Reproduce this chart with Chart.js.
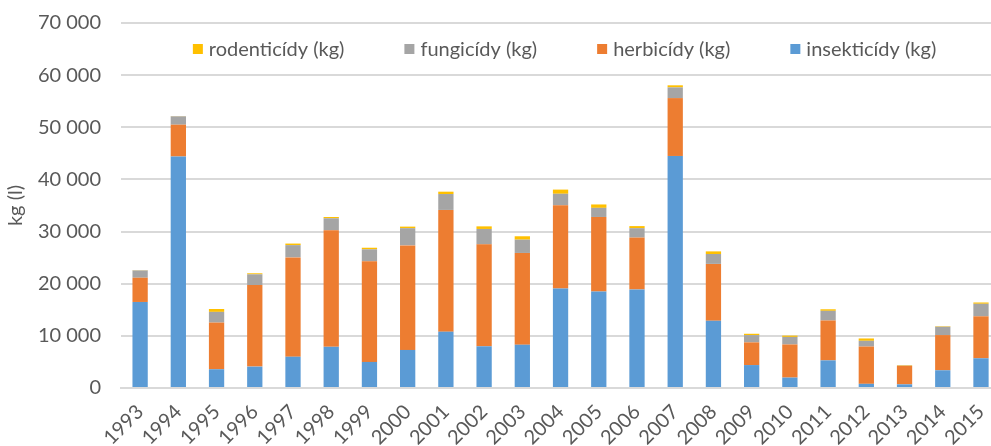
<!DOCTYPE html>
<html>
<head>
<meta charset="utf-8">
<script src="https://cdn.jsdelivr.net/npm/chart.js@4/dist/chart.umd.min.js"></script>
<style>
  html, body { margin: 0; padding: 0; background: #fff; overflow: hidden; }
  #wrap { position: relative; width: 1010px; height: 455px; margin-top: -9px; }
</style>
</head>
<body>
<div id="wrap"><canvas id="c"></canvas></div>
<script>
const years = ['1993','1994','1995','1996','1997','1998','1999','2000','2001','2002','2003','2004','2005','2006','2007','2008','2009','2010','2011','2012','2013','2014','2015'];
const insekticidy = [16500, 44400, 3600, 4100, 6000, 7900, 5000, 7300, 10800, 8000, 8300, 19100, 18500, 18900, 44500, 12900, 4400, 2000, 5300, 800, 700, 3400, 5700];
const herbicidy   = [4650, 6100, 8950, 15650, 19050, 22350, 19300, 20050, 23350, 19550, 17600, 15950, 14300, 9950, 11100, 10900, 4350, 6350, 7650, 7150, 3550, 6750, 8050];
const fungicidy   = [1400, 1600, 2050, 2050, 2350, 2300, 2300, 3300, 3050, 2950, 2550, 2200, 1750, 1800, 2050, 1900, 1400, 1450, 1850, 1100, 50, 1600, 2400];
const rodenticidy = [50, 50, 550, 200, 300, 250, 300, 300, 450, 500, 650, 800, 650, 400, 400, 500, 250, 250, 300, 450, 100, 100, 250];
const seriesLabels = ['insekticídy (kg)', 'herbicídy (kg)', 'fungicídy (kg)', 'rodenticídy (kg)'];
const seriesColors = ['#5B9BD5', '#ED7D31', '#A5A5A5', '#FFC000'];
const yTitle = 'kg (l)';

const FONT = 'Lato, Carlito, "Open Sans", sans-serif';
const TXT = '#595959';

const legendPlugin = {
  id: 'insideLegend',
  afterDraw(chart) {
    const ctx = chart.ctx;
    const ca = chart.chartArea;
    const items = chart.data.datasets.slice().reverse();
    ctx.save();
    ctx.font = '20px ' + FONT;
    const box = 10, gap = 6, itemGap = 60;
    const widths = items.map(d => box + gap + ctx.measureText(d.label).width);
    const total = widths.reduce((a, b) => a + b, 0) + itemGap * (items.length - 1);
    let x = (ca.left + ca.right) / 2 + 4 - total / 2;
    const y = ca.top + 26;
    ctx.textBaseline = 'middle';
    items.forEach((d, i) => {
      ctx.fillStyle = d.backgroundColor;
      ctx.fillRect(x, y - box / 2, box, box);
      ctx.fillStyle = TXT;
      ctx.fillText(d.label, x + box + gap, y + 1);
      x += widths[i] + itemGap;
    });
    ctx.restore();
  }
};

const seriesData = [insekticidy, herbicidy, fungicidy, rodenticidy];

new Chart(document.getElementById('c'), {
  type: 'bar',
  data: {
    labels: years,
    datasets: seriesData.map((arr, i) => ({
      label: seriesLabels[i],
      data: arr,
      backgroundColor: seriesColors[i],
      borderWidth: 0,
      barPercentage: 0.4,
      categoryPercentage: 1.0
    }))
  },
  options: {
    responsive: true,
    maintainAspectRatio: false,
    animation: false,
    layout: { padding: { top: 12, right: 2, left: 0, bottom: 0 } },
    plugins: {
      legend: { display: false },
      tooltip: { enabled: false }
    },
    scales: {
      x: {
        stacked: true,
        grid: { display: false, drawTicks: false },
        border: { display: true, color: '#d9d9d9', width: 2 },
        ticks: {
          color: TXT,
          font: { family: FONT, size: 20 },
          maxRotation: 45,
          minRotation: 45,
          padding: 12,
          autoSkip: false
        },
        afterFit(scale) { scale.height = 58; }
      },
      y: {
        stacked: true,
        min: 0,
        max: 70000,
        grid: { color: '#d9d9d9', lineWidth: 2, drawTicks: false },
        border: { display: false },
        ticks: {
          stepSize: 10000,
          color: TXT,
          font: { family: FONT, size: 20 },
          padding: 20,
          callback: v => String(v).replace(/\B(?=(\d{3})+(?!\d))/g, ' ')
        },
        title: {
          display: true,
          text: yTitle,
          color: TXT,
          font: { family: FONT, size: 20 },
          padding: { top: 4, bottom: 4 }
        },
        afterFit(scale) { scale.width = 121; }
      }
    }
  },
  plugins: [legendPlugin]
});
</script>
</body>
</html>
